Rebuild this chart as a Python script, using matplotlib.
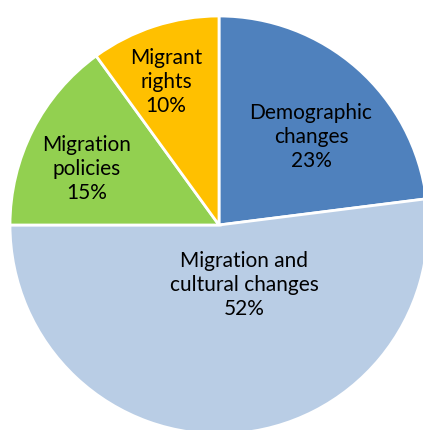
import matplotlib.pyplot as plt

# topic shares, clockwise from 12 o'clock
labels = ['Demographic\nchanges', 'Migration and\ncultural changes', 'Migration\npolicies', 'Migrant\nrights']
shares = [23, 52, 15, 10]
colors = ['#4F81BD', '#B9CDE5', '#92D050', '#FFC000']

# where each label's block of text sits (pixels from top-left)
label_xy = [(311, 137), (244, 285), (87, 169), (166, 82)]

W, H = 423, 430
fig = plt.figure(figsize=(W / 100, H / 100), dpi=100)
ax = fig.add_axes([0, 0, 1, 1])

ax.pie(shares, colors=colors, startangle=90, counterclock=False,
       center=(219, H - 225), radius=209,
       wedgeprops=dict(edgecolor='white', linewidth=2))
ax.set_xlim(0, W)
ax.set_ylim(0, H)
ax.set_aspect('equal')
ax.axis('off')

for lab, val, (x, y) in zip(labels, shares, label_xy):
    ax.text(x, H - y, f'{lab}\n{val}%', ha='center', va='center',
            fontsize=15, family='Lato', color='black', linespacing=1.22)

plt.savefig('out.png', dpi=100)
